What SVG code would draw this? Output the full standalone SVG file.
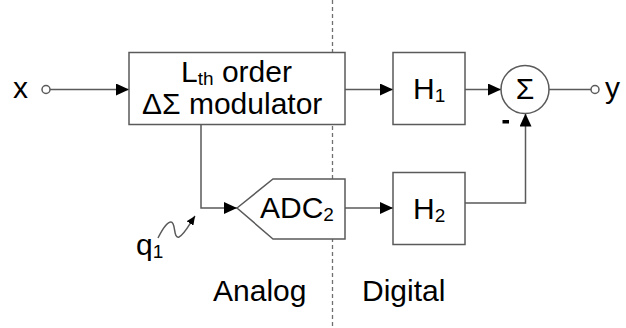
<svg xmlns="http://www.w3.org/2000/svg" width="626" height="328" viewBox="0 0 626 328">
<style>
.ln{fill:none;stroke:#5a5a5a;stroke-width:1.5}
.bx{fill:#fff;stroke:#5a5a5a;stroke-width:1.5}
.t{font-family:"Liberation Sans",Arial,sans-serif;font-size:30px;fill:#000}
.sub{font-size:19px}
.dash{fill:none;stroke:#707070;stroke-width:1.3;stroke-dasharray:4 3}
</style>
<defs>
<marker id="arr" markerUnits="userSpaceOnUse" markerWidth="14" markerHeight="12" refX="13" refY="6" orient="auto">
<path d="M0,0 L13,6 L0,12 z" fill="#000"/>
</marker>
<marker id="sarr" markerUnits="userSpaceOnUse" markerWidth="10" markerHeight="8" refX="9" refY="4" orient="auto">
<path d="M0,0 L9,4 L0,8 z" fill="#000"/>
</marker>
</defs>
<line class="dash" x1="332.5" y1="0" x2="332.5" y2="328"/>
<g id="connectors">
<line class="ln" x1="50" y1="89.5" x2="129" y2="89.5" marker-end="url(#arr)"/>
<line class="ln" x1="345" y1="89.5" x2="393" y2="89.5" marker-end="url(#arr)"/>
<line class="ln" x1="465" y1="89.5" x2="501" y2="89.5" marker-end="url(#arr)"/>
<line class="ln" x1="549" y1="89.5" x2="591" y2="89.5"/>
<polyline class="ln" points="201,124.5 201,208 237,208" marker-end="url(#arr)"/>
<line class="ln" x1="345" y1="208" x2="393" y2="208" marker-end="url(#arr)"/>
<polyline class="ln" points="465,203 525.5,203 525.5,113.5" marker-end="url(#arr)"/>
<path class="ln" d="M158,238 C162,230 167,222 171,222 C176,222 173,239 179,237 C184,235 189,225 195,216" marker-end="url(#sarr)"/>
</g>
<g id="input">
<circle class="bx" cx="46" cy="89.5" r="4"/>
<text class="t" x="13" y="98">x</text>
</g>
<g id="modulator">
<rect class="bx" x="129" y="52.5" width="216" height="72"/>
<text class="t" x="181" y="82">L<tspan class="sub" dy="3">th</tspan><tspan dy="-3"> order</tspan></text>
<text class="t" x="142" y="114">ΔΣ modulator</text>
</g>
<g id="h1">
<rect class="bx" x="393" y="52.5" width="72" height="72"/>
<text class="t" x="413" y="99">H<tspan class="sub" dy="3">1</tspan></text>
</g>
<g id="sum">
<circle class="bx" cx="525" cy="89.5" r="24"/>
<text class="t" x="525" y="99" text-anchor="middle" font-size="27">Σ</text>
<rect x="502.5" y="120" width="6.5" height="3.5" fill="#000"/>
</g>
<g id="output">
<circle class="bx" cx="595" cy="89.5" r="4"/>
<text class="t" x="605" y="98">y</text>
</g>
<g id="adc">
<polygon class="bx" points="237,208 273,179 345,179 345,239 273,239"/>
<text class="t" x="260" y="218">ADC<tspan class="sub" dy="3">2</tspan></text>
</g>
<g id="h2">
<rect class="bx" x="393" y="172.5" width="72" height="72"/>
<text class="t" x="413" y="219">H<tspan class="sub" dy="3">2</tspan></text>
</g>
<g id="q1">
<text class="t" x="136" y="255">q<tspan class="sub" dy="3">1</tspan></text>
</g>
<text class="t" x="213" y="301">Analog</text>
<text class="t" x="362" y="301">Digital</text>
</svg>
